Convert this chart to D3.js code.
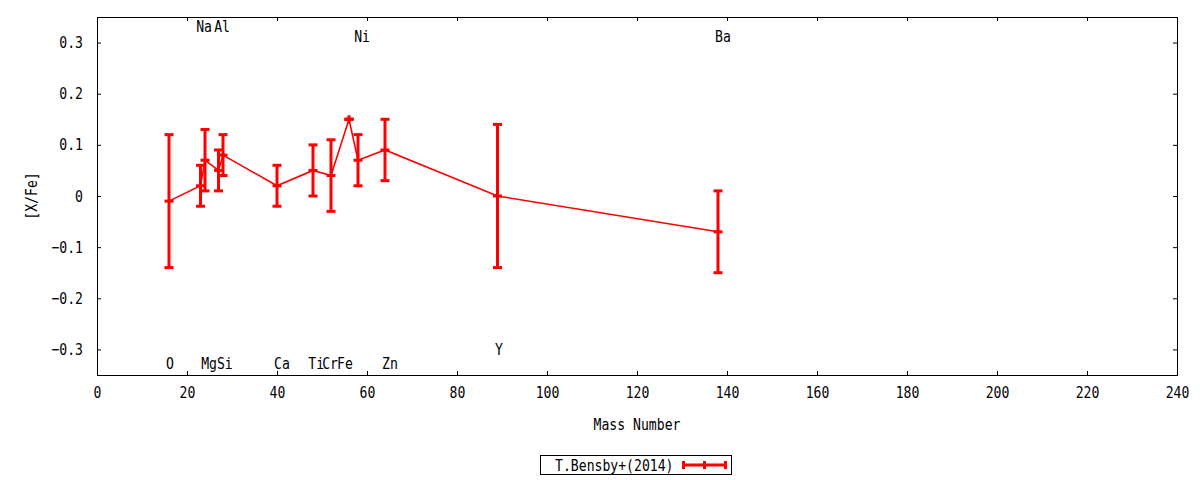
<!DOCTYPE html>
<html>
<head>
<meta charset="utf-8">
<script src="https://cdn.jsdelivr.net/npm/d3@7"></script>
<style>
  body { margin: 0; background: #fff; }
  svg text { font-family: "DejaVu Sans Mono", monospace; font-size: 16px; fill: #000; }
</style>
</head>
<body>
<div id="chart"></div>
<script>
// Bensby et al. (2014) abundances vs mass number
const elements = ["O", "Na", "Mg", "Al", "Si", "Ca", "Ti", "Cr", "Fe", "Ni", "Zn", "Y", "Ba"];
const massNumber = [16, 23, 24, 27, 28, 40, 48, 52, 56, 58, 64, 89, 138];
const xFe = [-0.01, 0.02, 0.07, 0.05, 0.08, 0.02, 0.05, 0.04, 0.15, 0.07, 0.09, 0.0, -0.07];
const xFeErr = [0.13, 0.04, 0.06, 0.04, 0.04, 0.04, 0.05, 0.07, 0.0, 0.05, 0.06, 0.14, 0.08];

// element name labels (position)
const labelX = [16.2, 23.8, 24.9, 27.8, 28.4, 41.1, 48.7, 51.8, 55.1, 58.9, 65.1, 89.3, 139.1];
const labelY = [-0.327, 0.331, -0.327, 0.331, -0.327, -0.327, -0.327, -0.327, -0.327, 0.312, -0.327, -0.30, 0.312];

const xTicks = [0, 20, 40, 60, 80, 100, 120, 140, 160, 180, 200, 220, 240];
const yTicks = [-0.3, -0.2, -0.1, 0, 0.1, 0.2, 0.3];
const seriesName = "T.Bensby+(2014)";

const width = 1200, height = 480;
const margin = { top: 17, right: 23, bottom: 105, left: 97 };
const red = "#ff0000";
const sx = 0.82; // the original font is a narrow one

const data = elements.map((el, i) => ({
    el, m: massNumber[i], v: xFe[i], e: xFeErr[i], lx: labelX[i], ly: labelY[i]
}));

const svg = d3.select("#chart").append("svg")
    .attr("width", width)
    .attr("height", height);

const x = d3.scaleLinear().domain([0, 240]).range([margin.left, width - margin.right]);
const y = d3.scaleLinear().domain([-0.35, 0.35]).range([height - margin.bottom, margin.top]);

const fmtY = d => d === 0 ? "0" : d3.format(".1f")(d);

// move x/y of a text into a transform so it can be narrowed
function squeeze(sel, rot) {
    sel.each(function () {
        const t = d3.select(this);
        const tx = +t.attr("x") || 0, ty = +t.attr("y") || 0;
        t.attr("x", null).attr("y", null)
            .attr("transform", `translate(${tx},${ty})${rot ? " rotate(" + rot + ")" : ""} scale(${sx},1)`);
    });
}

// axes with inward ticks, mirrored on top/right
const gx = svg.append("g")
    .attr("transform", `translate(0,${y.range()[0]})`)
    .call(d3.axisBottom(x).tickValues(xTicks).tickSize(-4).tickPadding(12).tickFormat(d3.format("d")));
svg.append("g")
    .attr("transform", `translate(0,${y.range()[1]})`)
    .call(d3.axisTop(x).tickValues(xTicks).tickSize(-4).tickFormat(""));
const gy = svg.append("g")
    .attr("transform", `translate(${x.range()[0]},0)`)
    .call(d3.axisLeft(y).tickValues(yTicks).tickSize(-4).tickPadding(14).tickFormat(fmtY));
svg.append("g")
    .attr("transform", `translate(${x.range()[1]},0)`)
    .call(d3.axisRight(y).tickValues(yTicks).tickSize(-4).tickFormat(""));

svg.selectAll(".domain").remove();
svg.selectAll(".tick line").attr("stroke", "#000");
svg.selectAll(".tick text").style("font-size", "16px").style("font-family", "DejaVu Sans Mono, monospace");
squeeze(gx.selectAll(".tick text"));
squeeze(gy.selectAll(".tick text"));

// plot border
svg.append("rect")
    .attr("x", x.range()[0] + 0.5)
    .attr("y", y.range()[1] + 0.5)
    .attr("width", x.range()[1] - x.range()[0])
    .attr("height", y.range()[0] - y.range()[1])
    .attr("fill", "none")
    .attr("stroke", "#000")
    .attr("stroke-width", 1);

// axis titles
svg.append("text")
    .attr("x", (x.range()[0] + x.range()[1]) / 2)
    .attr("y", 430)
    .attr("text-anchor", "middle")
    .text("Mass Number")
    .call(squeeze);
svg.append("text")
    .attr("x", 37).attr("y", y(0))
    .attr("text-anchor", "middle")
    .text("[X/Fe]")
    .call(squeeze, -90);

// element labels
svg.selectAll(".el-label").data(data).enter().append("text")
    .attr("class", "el-label")
    .attr("x", d => x(d.lx))
    .attr("y", d => y(d.ly))
    .attr("dy", "0.35em")
    .attr("text-anchor", "middle")
    .text(d => d.el)
    .call(squeeze);

// connecting line
svg.append("path")
    .datum(data)
    .attr("fill", "none")
    .attr("stroke", red)
    .attr("stroke-width", 1.6)
    .attr("d", d3.line().x(d => x(d.m)).y(d => y(d.v)));

// error bars with caps, plus a "+" point marker
const capW = 9;
const bars = svg.selectAll(".err").data(data).enter().append("g").attr("class", "err");

bars.append("line")
    .attr("x1", d => x(d.m)).attr("x2", d => x(d.m))
    .attr("y1", d => Math.min(y(d.v + d.e), y(d.v) - 4)).attr("y2", d => Math.max(y(d.v - d.e), y(d.v) + 4))
    .attr("stroke", red).attr("stroke-width", 3);

[d => d.v + d.e, d => d.v - d.e, d => d.v].forEach(fy => {
    bars.append("line")
        .attr("x1", d => x(d.m) - capW / 2).attr("x2", d => x(d.m) + capW / 2)
        .attr("y1", d => y(fy(d))).attr("y2", d => y(fy(d)))
        .attr("stroke", red).attr("stroke-width", 3);
});

// legend
const legend = svg.append("g").attr("transform", "translate(540.5,455.5)");
legend.append("rect")
    .attr("width", 191).attr("height", 19)
    .attr("fill", "#fff").attr("stroke", "#000");
legend.append("text")
    .attr("x", 133).attr("y", 10).attr("dy", "0.35em")
    .attr("text-anchor", "end")
    .text(seriesName)
    .call(squeeze);
legend.append("line")
    .attr("x1", 143).attr("x2", 185).attr("y1", 9.5).attr("y2", 9.5)
    .attr("stroke", red).attr("stroke-width", 3);
[143, 164, 185].forEach(lx => {
    legend.append("line")
        .attr("x1", lx).attr("x2", lx).attr("y1", 5.5).attr("y2", 13.5)
        .attr("stroke", red).attr("stroke-width", 3);
});
</script>
</body>
</html>
